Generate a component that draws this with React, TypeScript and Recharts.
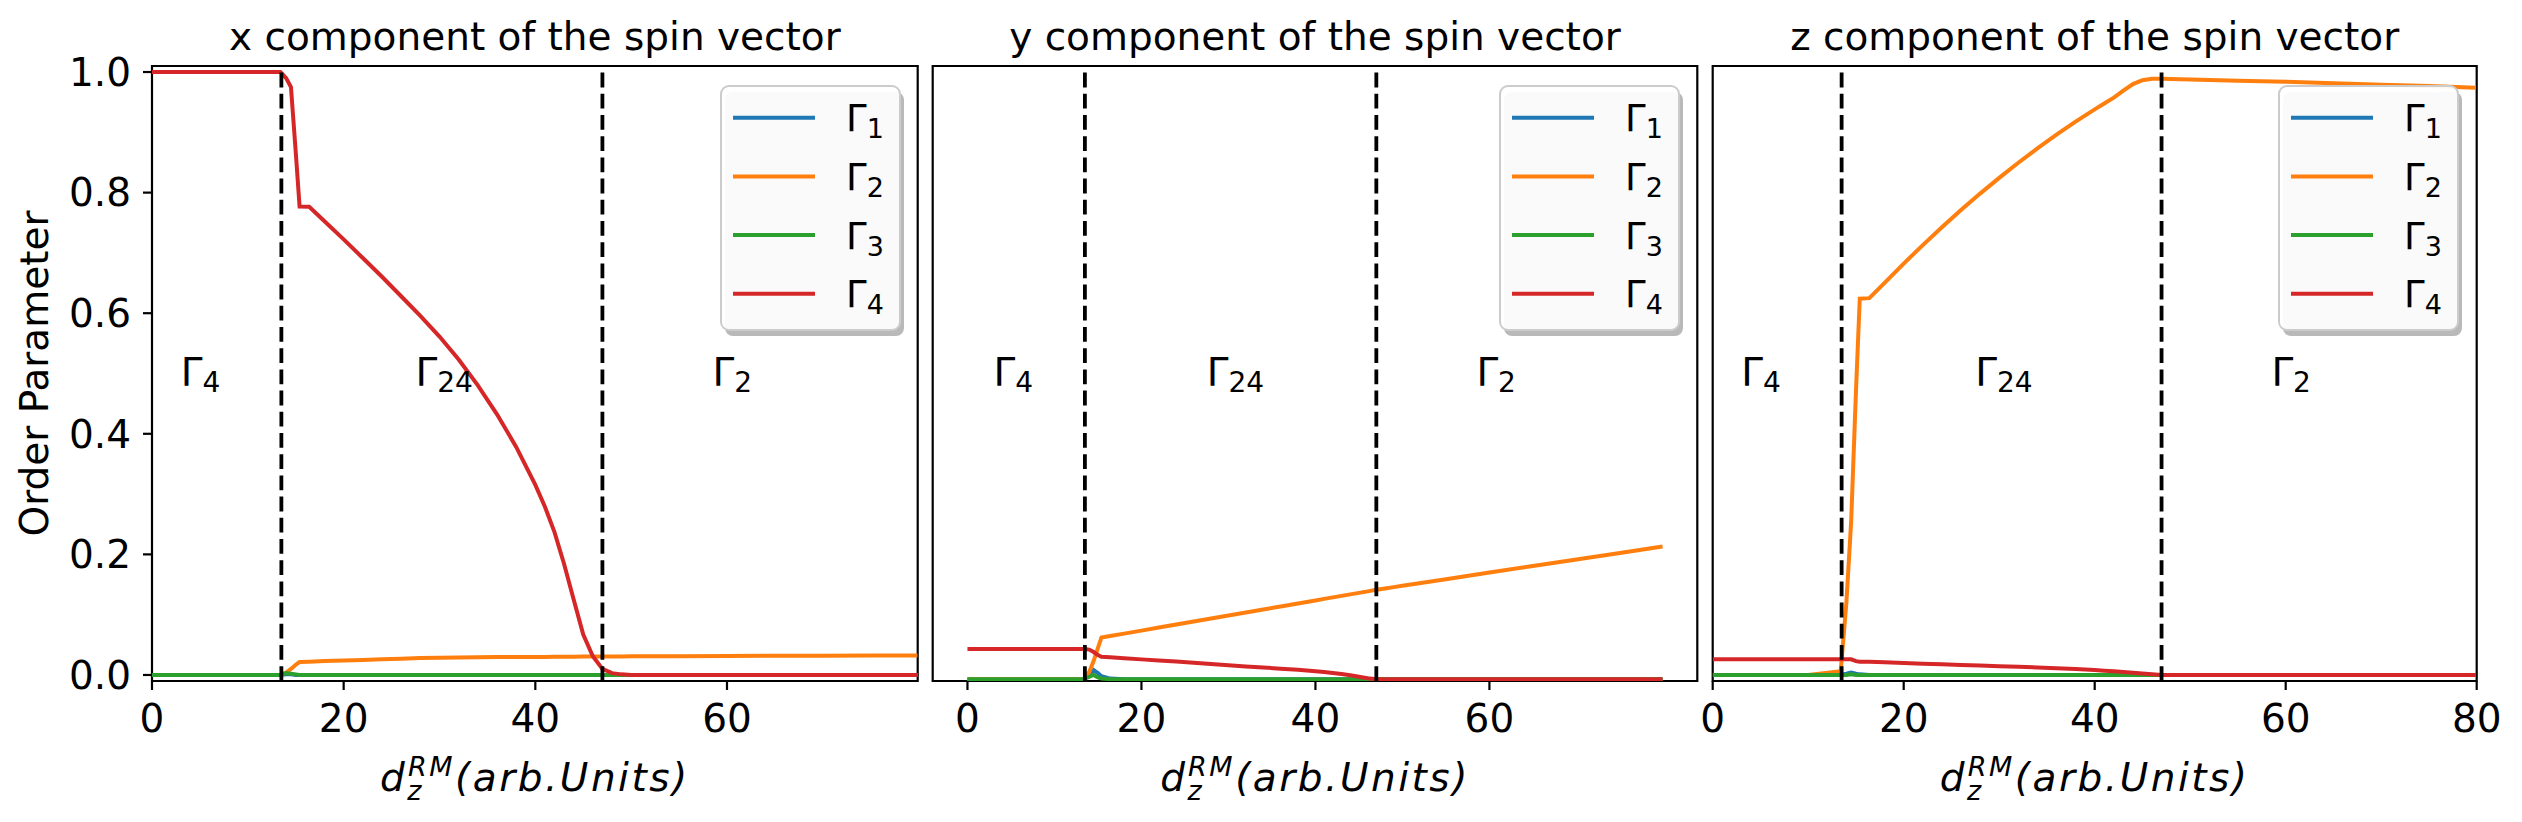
import React from 'react';
import { LineChart, Line, XAxis, YAxis, ReferenceLine, ReferenceArea, ReferenceDot, Legend } from 'recharts';

// shared sample grid of d_z^RM values
const xs = [0, 5, 10, 13.4, 14, 14.5, 15, 15.4, 16.4, 18, 20, 22, 24, 26, 28, 30, 32, 34, 36, 38, 40, 41, 42, 43, 44, 45, 46, 47, 48, 49, 50, 55, 60, 65, 70, 75, 79.9];

// x component
const xG1 = [0, 0, 0, 0, 0.001, 0.001, 0, 0, 0, 0, 0, 0, 0, 0, 0, 0, 0, 0, 0, 0, 0, 0, 0, 0, 0, 0, 0, 0, 0, 0, 0, 0, 0, 0, 0, 0, 0];
const xG2 = [0, 0, 0, 0, 0.004, 0.01, 0.017, 0.0215, 0.022, 0.023, 0.024, 0.025, 0.026, 0.027, 0.028, 0.0285, 0.029, 0.0293, 0.0296, 0.0299, 0.03, 0.03, 0.0302, 0.0303, 0.0304, 0.0305, 0.0305, 0.0305, 0.0306, 0.0307, 0.031, 0.0312, 0.0315, 0.0318, 0.032, 0.0322, 0.0325];
const xG3 = [0, 0, 0, 0, 0.003, 0.002, 0.001, 0, 0, 0, 0, 0, 0, 0, 0, 0, 0, 0, 0, 0, 0, 0, 0, 0, 0, 0, 0, 0, 0, 0, 0, 0, 0, 0, 0, 0, 0];
const xG4 = [1, 1, 1, 1, 0.99, 0.975, 0.867, 0.777, 0.7765, 0.7525, 0.7225, 0.6915, 0.6605, 0.6281, 0.5957, 0.5613, 0.5233, 0.4803, 0.4323, 0.3783, 0.3153, 0.279, 0.237, 0.184, 0.125, 0.067, 0.031, 0.01, 0.003, 0.001, 0, 0, 0, 0, 0, 0, 0];

// y component
const yG1 = [0, 0, 0, 0, 0.008, 0.015, 0.01, 0.005, 0.001, 0, 0, 0, 0, 0, 0, 0, 0, 0, 0, 0, 0, 0, 0, 0, 0, 0, 0, 0, 0, 0, 0, 0, 0, 0, 0, 0, 0];
const yG2 = [0, 0, 0, 0, 0.012, 0.03, 0.052, 0.069, 0.0714, 0.0754, 0.0804, 0.0854, 0.0904, 0.0954, 0.1004, 0.1054, 0.1104, 0.1154, 0.1204, 0.1254, 0.1304, 0.1329, 0.1354, 0.1379, 0.1404, 0.1429, 0.1454, 0.1479, 0.1502, 0.1524, 0.1546, 0.1655, 0.1765, 0.1874, 0.1982, 0.209, 0.2195];
const yG3 = [0, 0, 0, 0, 0.004, 0.007, 0.003, 0.001, 0, 0, 0, 0, 0, 0, 0, 0, 0, 0, 0, 0, 0, 0, 0, 0, 0, 0, 0, 0, 0, 0, 0, 0, 0, 0, 0, 0, 0];
const yG4 = [0.05, 0.05, 0.05, 0.05, 0.049, 0.045, 0.04, 0.037, 0.0362, 0.0347, 0.0328, 0.031, 0.0291, 0.0272, 0.0252, 0.0232, 0.0212, 0.0193, 0.0174, 0.0157, 0.0133, 0.012, 0.0104, 0.0085, 0.0064, 0.004, 0.0015, 0, 0, 0, 0, 0, 0, 0, 0, 0, 0];

// z component
const zG1 = [0, 0, 0, 0, 0.002, 0.004, 0.002, 0.001, 0, 0, 0, 0, 0, 0, 0, 0, 0, 0, 0, 0, 0, 0, 0, 0, 0, 0, 0, 0, 0, 0, 0, 0, 0, 0, 0, 0, 0];
const zG2 = [0, 0, 0, 0.006, 0.12, 0.255, 0.47, 0.624, 0.625, 0.6504, 0.6823, 0.713, 0.7426, 0.7711, 0.7984, 0.8245, 0.8495, 0.8734, 0.8961, 0.9177, 0.9381, 0.9478, 0.9575, 0.969, 0.98, 0.9865, 0.9888, 0.989, 0.9885, 0.988, 0.9877, 0.9857, 0.984, 0.9815, 0.979, 0.9767, 0.974];
const zG3 = [0, 0, 0, 0, 0, 0.001, 0, 0, 0, 0, 0, 0, 0, 0, 0, 0, 0, 0, 0, 0, 0, 0, 0, 0, 0, 0, 0, 0, 0, 0, 0, 0, 0, 0, 0, 0, 0];
const zG4 = [0.026, 0.026, 0.026, 0.026, 0.026, 0.026, 0.023, 0.022, 0.0218, 0.0209, 0.0198, 0.0187, 0.0176, 0.0166, 0.0156, 0.0146, 0.0136, 0.0125, 0.0113, 0.0099, 0.0082, 0.0072, 0.0062, 0.005, 0.0037, 0.0024, 0.0011, 0, 0, 0, 0, 0, 0, 0, 0, 0, 0];

const SERIES = ['g1', 'g2', 'g3', 'g4'];
const NAMES = ['Γ1', 'Γ2', 'Γ3', 'Γ4'];
const COLORS = ['#1f77b4', '#ff7f0e', '#2ca02c', '#d62728'];
const TITLES = ['x component of the spin vector', 'y component of the spin vector', 'z component of the spin vector'];
const PHASE_X = [13.5, 47];
const REGIONS = [
  { x: 3, sub: '4' },
  { x: 27.5, sub: '24' },
  { x: 58.5, sub: '2' },
];
const Y_TICKS = [0, 0.2, 0.4, 0.6, 0.8, 1.0];

const FONT = 'DejaVu Sans';

const rows = (g1: number[], g2: number[], g3: number[], g4: number[]) =>
  xs.map((x, i) => ({ x, g1: g1[i], g2: g2[i], g3: g3[i], g4: g4[i] }));

const LegendBox = ({ payload }: any) => (
  <svg width={190} height={256} style={{ display: 'block', overflow: 'visible' }}>
    <rect x={4} y={6} width={179} height={244} rx={8} fill="#808080" fillOpacity={0.55} />
    <rect x={0} y={0} width={179} height={244} rx={8} fill="#fff" fillOpacity={0.92} stroke="#cccccc" strokeWidth={2} />
    {(payload || []).map((p: any, i: number) => {
      const cy = 31.7 + 58.7 * i;
      const name = String(p.value);
      return (
        <g key={name}>
          <line x1={12} x2={94} y1={cy} y2={cy} stroke={p.color} strokeWidth={4} />
          <text x={125} y={cy + 13.5} fontFamily={FONT} fontSize={37} fill="#000">
            {name.slice(0, 1)}
            <tspan fontSize={27} dy={7}>{name.slice(1)}</tspan>
          </text>
        </g>
      );
    })}
  </svg>
);

const regionShape = (sub: string) => (props: any) => (
  <text x={props.cx} y={props.cy} fontFamily={FONT} fontSize={39} fill="#000">
    Γ<tspan fontSize={28} dy={6}>{sub}</tspan>
  </text>
);

interface PanelProps {
  data: any[];
  left: number;
  width: number;
  margin: { top: number; right: number; bottom: number; left: number };
  xDomain: [number, number];
  yDomain: [number, number];
  xTicks: number[];
  showY: boolean;
  legendLeft: number;
  regionY: number;
}

function Panel({ data, left, width, margin, xDomain, yDomain, xTicks, showY, legendLeft, regionY }: PanelProps) {
  const tickStyle = { fontSize: 39, fill: '#000', fontFamily: FONT };
  return (
    <div style={{ position: 'absolute', left, top: 0 }}>
      <LineChart width={width} height={822} data={data} margin={margin}>
        <XAxis
          dataKey="x"
          type="number"
          domain={xDomain}
          ticks={xTicks}
          allowDataOverflow
          height={141}
          axisLine={false}
          tickLine={{ stroke: '#000', strokeWidth: 2.2 }}
          tickSize={9}
          tickMargin={14}
          tick={tickStyle}
        />
        <YAxis
          type="number"
          domain={yDomain}
          ticks={Y_TICKS}
          allowDataOverflow
          hide={!showY}
          width={152}
          axisLine={false}
          tickLine={{ stroke: '#000', strokeWidth: 2.2 }}
          tickSize={9}
          tickMargin={12}
          tick={tickStyle}
          tickFormatter={(v: number) => v.toFixed(1)}
        />
        {SERIES.map((k, i) => (
          <Line
            key={k}
            dataKey={k}
            name={NAMES[i]}
            type="linear"
            stroke={COLORS[i]}
            strokeWidth={4}
            dot={false}
            activeDot={false}
            isAnimationActive={false}
          />
        ))}
        {PHASE_X.map((x) => (
          <ReferenceLine key={x} x={x} stroke="#000" strokeWidth={3.8} strokeDasharray="14.8 6.4" />
        ))}
        {REGIONS.map((r) => (
          <ReferenceDot key={r.sub} x={r.x} y={regionY} r={0} shape={regionShape(r.sub)} />
        ))}
        <ReferenceArea
          x1={xDomain[0]}
          x2={xDomain[1]}
          y1={yDomain[0]}
          y2={yDomain[1]}
          fill="none"
          stroke="#000"
          strokeWidth={2.2}
          ifOverflow="visible"
        />
        <Legend
          layout="horizontal"
          verticalAlign="middle"
          align="center"
          content={<LegendBox />}
          wrapperStyle={{ left: legendLeft, top: 86, width: 190, height: 256 }}
        />
      </LineChart>
    </div>
  );
}

const XLabel = ({ cx }: { cx: number }) => (
  <text x={cx} y={791} textAnchor="middle" fontFamily={FONT} fontStyle="italic" fontSize={39} letterSpacing={2.5} fill="#000">
    d
    <tspan fontSize={27} dy={9}>z</tspan>
    <tspan fontSize={27} dx={-16} dy={-24}>RM</tspan>
    <tspan dy={15}>(arb.Units)</tspan>
  </text>
);

export default function App() {
  const centers = [534.9, 1315, 2094.7];
  return (
    <div style={{ position: 'absolute', left: 0, top: 0, width: 2522, height: 822, background: '#fff' }}>
      <Panel
        data={rows(xG1, xG2, xG3, xG4)}
        left={0}
        width={940}
        margin={{ top: 66, right: 22.3, bottom: 0, left: 0 }}
        xDomain={[0, 79.9]}
        yDomain={[-0.01, 1.01]}
        xTicks={[0, 20, 40, 60]}
        showY
        legendLeft={720.7}
        regionY={0.48}
      />
      <Panel
        data={rows(yG1, yG2, yG3, yG4)}
        left={925}
        width={790}
        margin={{ top: 66, right: 17.7, bottom: 0, left: 7.7 }}
        xDomain={[-3.995, 83.895]}
        yDomain={[-0.003, 1.015]}
        xTicks={[0, 20, 40, 60]}
        showY={false}
        legendLeft={574.9}
        regionY={0.485}
      />
      <Panel
        data={rows(zG1, zG2, zG3, zG4)}
        left={1700}
        width={822}
        margin={{ top: 66, right: 45.3, bottom: 0, left: 12.7 }}
        xDomain={[0, 80]}
        yDomain={[-0.01, 1.01]}
        xTicks={[0, 20, 40, 60, 80]}
        showY={false}
        legendLeft={579.3}
        regionY={0.48}
      />
      <svg width={2522} height={822} style={{ position: 'absolute', left: 0, top: 0, pointerEvents: 'none' }}>
        {TITLES.map((t, i) => (
          <text key={t} x={centers[i]} y={50} textAnchor="middle" fontFamily={FONT} fontSize={39} fill="#000">
            {t}
          </text>
        ))}
        <text transform="translate(48,373.5) rotate(-90)" textAnchor="middle" fontFamily={FONT} fontSize={39} fill="#000">
          Order Parameter
        </text>
        {centers.map((c) => (
          <XLabel key={c} cx={c} />
        ))}
      </svg>
    </div>
  );
}
